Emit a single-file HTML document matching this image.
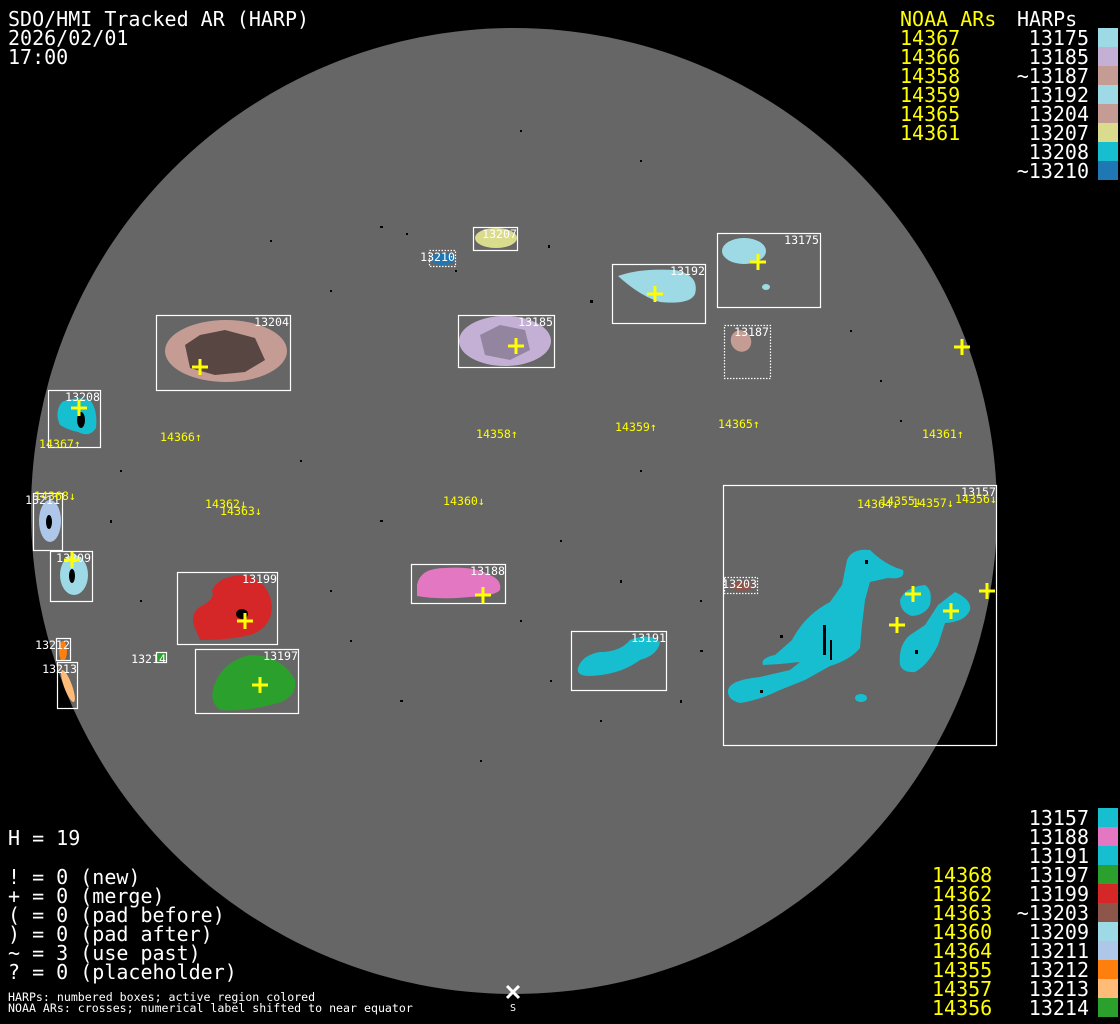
<!DOCTYPE html>
<html><head><meta charset="utf-8"><style>
html,body{margin:0;padding:0;background:#000;}
svg{display:block}
text{font-family:"DejaVu Sans Mono","Liberation Mono",monospace;}
.big{font-size:20px;fill:#fff}
.by{font-size:20px;fill:#ff0}
.lb{font-size:11.6px;fill:#fff}
.ny{font-size:11.6px;fill:#ff0}
.bx{fill:none;stroke:#fff;stroke-width:1.2}
.dt{fill:none;stroke:#fff;stroke-width:1.2;stroke-dasharray:1.5 1.5}
.cr{stroke:#ff0;stroke-width:3}
.sp{fill:#000}
</style></head><body>
<svg width="1120" height="1024" viewBox="0 0 1120 1024" xmlns="http://www.w3.org/2000/svg">
<rect width="1120" height="1024" fill="#000"/>
<circle cx="514" cy="511" r="483" fill="#666"/>
<g class="sp">
<rect x="380" y="226" width="3" height="2"/><rect x="406" y="233" width="2" height="2"/><rect x="548" y="245" width="2" height="3"/><rect x="590" y="300" width="3" height="3"/><rect x="455" y="270" width="2" height="2"/><rect x="330" y="290" width="2" height="2"/><rect x="850" y="330" width="2" height="2"/><rect x="880" y="380" width="2" height="2"/><rect x="300" y="460" width="2" height="2"/><rect x="380" y="520" width="3" height="2"/><rect x="560" y="540" width="2" height="2"/><rect x="620" y="580" width="2" height="3"/><rect x="700" y="600" width="2" height="2"/><rect x="520" y="620" width="2" height="2"/><rect x="350" y="640" width="2" height="2"/><rect x="400" y="700" width="3" height="2"/><rect x="600" y="720" width="2" height="2"/><rect x="680" y="700" width="2" height="3"/><rect x="480" y="760" width="2" height="2"/><rect x="120" y="470" width="2" height="2"/><rect x="140" y="600" width="2" height="2"/><rect x="110" y="520" width="2" height="3"/><rect x="330" y="590" width="2" height="2"/><rect x="640" y="470" width="2" height="2"/><rect x="900" y="420" width="2" height="2"/><rect x="270" y="240" width="2" height="2"/><rect x="640" y="160" width="2" height="2"/><rect x="520" y="130" width="2" height="2"/><rect x="700" y="650" width="3" height="2"/><rect x="550" y="680" width="2" height="2"/>
</g>

<ellipse cx="496" cy="238" rx="21" ry="10" fill="#dbdb8d"/>
<rect class="bx" x="473.5" y="227.5" width="44" height="23"/>
<text class="lb" x="517" y="238" text-anchor="end">13207</text>
<ellipse cx="443" cy="259" rx="12" ry="6" fill="#1f77b4"/>
<rect class="dt" x="429.5" y="250.5" width="26" height="16"/>
<text class="lb" x="455" y="261" text-anchor="end">13210</text>
<ellipse cx="744" cy="251" rx="22" ry="13" fill="#9edae5"/>
<ellipse cx="766" cy="287" rx="4" ry="3" fill="#9edae5"/>
<rect class="bx" x="717.5" y="233.5" width="103" height="74"/>
<text class="lb" x="819" y="244" text-anchor="end">13175</text>
<path d="M618,276 Q640,268 675,270 Q700,275 695,294 Q690,305 660,302 Q640,296 618,276Z" fill="#9edae5"/>
<rect class="bx" x="612.5" y="264.5" width="93" height="59"/>
<text class="lb" x="705" y="275" text-anchor="end">13192</text>
<ellipse cx="741" cy="341" rx="10" ry="11" fill="#c49c94" transform="rotate(-30 741 341)"/>
<rect class="dt" x="724.5" y="325.5" width="46" height="53"/>
<text class="lb" x="769" y="336" text-anchor="end">13187</text>
<ellipse cx="226" cy="351" rx="61" ry="31" fill="#c49c94"/>
<path d="M185,345 L200,335 L225,330 L255,338 L265,360 L245,372 L215,375 L190,368Z" fill="#000" opacity="0.55"/>
<rect class="bx" x="156.5" y="315.5" width="134" height="75"/>
<text class="lb" x="289" y="326" text-anchor="end">13204</text>
<ellipse cx="505" cy="341" rx="46" ry="25" fill="#c5b0d5"/>
<path d="M480,335 L500,325 L525,330 L530,350 L510,360 L485,355Z" fill="#000" opacity="0.25"/>
<rect class="bx" x="458.5" y="315.5" width="96" height="52"/>
<text class="lb" x="553" y="326" text-anchor="end">13185</text>
<path d="M62,402 Q75,396 90,400 Q98,410 96,428 Q90,438 78,432 Q68,430 60,425 Q54,412 62,402Z" fill="#17becf"/>
<ellipse cx="81" cy="420" rx="4" ry="8" fill="#000"/>
<rect class="bx" x="48.5" y="390.5" width="52" height="57"/>
<text class="lb" x="100" y="401" text-anchor="end">13208</text>
<ellipse cx="50" cy="521" rx="11" ry="21" fill="#aec7e8"/>
<ellipse cx="49" cy="522" rx="3" ry="7" fill="#000"/>
<rect class="bx" x="33.5" y="493.5" width="29" height="57"/>
<text class="lb" x="60" y="504" text-anchor="end">13211</text>
<ellipse cx="74" cy="575" rx="14" ry="20" fill="#9edae5"/>
<ellipse cx="72" cy="576" rx="3" ry="7" fill="#000"/>
<rect class="bx" x="50.5" y="551.5" width="42" height="50"/>
<text class="lb" x="91" y="562" text-anchor="end">13209</text>
<ellipse cx="63" cy="651" rx="4" ry="10" fill="#ff7f0e"/>
<ellipse cx="68" cy="686" rx="4" ry="17" fill="#ffbb78" transform="rotate(-20 68 686)"/>
<rect class="bx" x="56.5" y="638.5" width="14" height="22"/>
<text class="lb" x="70" y="649" text-anchor="end">13212</text>
<rect class="bx" x="57.5" y="662.5" width="20" height="46"/>
<text class="lb" x="77" y="673" text-anchor="end">13213</text>
<rect x="157" y="653" width="8" height="8" fill="#2ca02c"/>
<rect class="bx" x="156.5" y="652.5" width="10" height="10"/>
<text class="lb" x="166" y="663" text-anchor="end">13214</text>
<path d="M195,628 Q188,612 205,604 Q215,598 212,590 Q220,575 245,575 Q268,580 272,605 Q272,628 250,635 Q230,640 200,640Z" fill="#d62728"/>
<ellipse cx="242" cy="614" rx="6" ry="5" fill="#000"/>
<rect class="bx" x="177.5" y="572.5" width="100" height="72"/>
<text class="lb" x="277" y="583" text-anchor="end">13199</text>
<path d="M213,690 Q220,662 250,655 Q282,655 295,680 Q298,700 270,705 Q245,712 220,710 Q210,702 213,690Z" fill="#2ca02c"/>
<rect class="bx" x="195.5" y="649.5" width="103" height="64"/>
<text class="lb" x="298" y="660" text-anchor="end">13197</text>
<path d="M417,585 Q420,568 445,568 Q475,566 490,575 Q502,580 500,590 Q495,596 470,597 Q440,600 417,596Z" fill="#e377c2"/>
<rect class="bx" x="411.5" y="564.5" width="94" height="39"/>
<text class="lb" x="505" y="575" text-anchor="end">13188</text>
<path d="M578,668 Q582,655 600,652 Q620,652 630,640 Q650,632 660,642 Q658,655 640,660 Q620,675 590,676 Q576,676 578,668Z" fill="#17becf"/>
<rect class="bx" x="571.5" y="631.5" width="95" height="59"/>
<text class="lb" x="666" y="642" text-anchor="end">13191</text>
<path d="M728,690 Q730,680 760,677 L790,670 L800,662 L780,664 L763,665 Q760,658 775,655 L792,640 Q805,615 830,602 L842,585 L847,560 Q852,548 870,550 Q885,565 903,570 Q906,580 888,578 L870,582 L865,600 L862,625 L860,648 Q850,660 830,666 L805,680 L780,690 Q760,700 740,703 Q727,700 728,690Z" fill="#17becf"/>
<path d="M900,600 Q905,587 925,585 Q933,590 930,605 Q925,615 912,616 Q900,612 900,600Z" fill="#17becf"/>
<path d="M900,665 Q898,645 910,635 L925,625 L938,605 L955,592 Q972,600 970,610 Q965,622 945,623 L938,645 Q928,665 915,672 Q903,673 900,665Z" fill="#17becf"/>
<ellipse cx="861" cy="698" rx="6" ry="4" fill="#17becf"/>
<g fill="#000"><rect x="823" y="625" width="3" height="30"/><rect x="830" y="640" width="2" height="20"/><rect x="780" y="635" width="3" height="3"/><rect x="760" y="690" width="3" height="3"/><rect x="915" y="650" width="3" height="4"/><rect x="865" y="560" width="3" height="4"/></g>
<rect class="bx" x="723.5" y="485.5" width="273" height="260"/>
<text class="lb" x="996" y="496" text-anchor="end">13157</text>
<ellipse cx="742" cy="586" rx="11" ry="5" fill="#8c564b"/>
<rect class="dt" x="724.5" y="577.5" width="33" height="16"/>
<text class="lb" x="757" y="588" text-anchor="end">13203</text>

<g class="cr">
<path d="M750,262h16M758,254v16"/>
<path d="M647,294h16M655,286v16"/>
<path d="M192,367h16M200,359v16"/>
<path d="M508,346h16M516,338v16"/>
<path d="M71,408h16M79,400v16"/>
<path d="M64,560h16M72,552v16"/>
<path d="M237,621h16M245,613v16"/>
<path d="M475,595h16M483,587v16"/>
<path d="M252,685h16M260,677v16"/>
<path d="M954,347h16M962,339v16"/>
<path d="M905,594h16M913,586v16"/>
<path d="M943,611h16M951,603v16"/>
<path d="M979,591h16M987,583v16"/>
<path d="M889,625h16M897,617v16"/>
</g>

<g class="ny">
<text x="39" y="448">14367↑</text>
<text x="160" y="441">14366↑</text>
<text x="476" y="438">14358↑</text>
<text x="615" y="431">14359↑</text>
<text x="718" y="428">14365↑</text>
<text x="922" y="438">14361↑</text>
<text x="34" y="500">14368↓</text>
<text x="205" y="508">14362↓</text>
<text x="220" y="515">14363↓</text>
<text x="443" y="505">14360↓</text>
<text x="857" y="508">14364↓</text>
<text x="880" y="505">14355↓</text>
<text x="912" y="507">14357↓</text>
<text x="955" y="503">14356↓</text>
</g>

<path d="M507,986l12,12M519,986l-12,12" stroke="#fff" stroke-width="3"/>
<text x="513" y="1011" class="lb" text-anchor="middle" style="font-size:10px">S</text>

<text class="big" x="8" y="26">SDO/HMI Tracked AR (HARP)</text>
<text class="big" x="8" y="45">2026/02/01</text>
<text class="big" x="8" y="64">17:00</text>

<text class="by" x="900" y="26">NOAA ARs</text>
<text class="big" x="1017" y="26">HARPs</text>
<g class="by"><text x="900" y="45">14367</text><text x="900" y="64">14366</text><text x="900" y="83">14358</text><text x="900" y="102">14359</text><text x="900" y="121">14365</text><text x="900" y="140">14361</text></g>
<g class="big" text-anchor="end"><text x="1089" y="45">13175</text><text x="1089" y="64">13185</text><text x="1089" y="83">~13187</text><text x="1089" y="102">13192</text><text x="1089" y="121">13204</text><text x="1089" y="140">13207</text><text x="1089" y="159">13208</text><text x="1089" y="178">~13210</text></g>
<rect x="1098" y="28" width="20" height="19" fill="#9edae5"/>
<rect x="1098" y="47" width="20" height="19" fill="#c5b0d5"/>
<rect x="1098" y="66" width="20" height="19" fill="#c49c94"/>
<rect x="1098" y="85" width="20" height="19" fill="#9edae5"/>
<rect x="1098" y="104" width="20" height="19" fill="#c49c94"/>
<rect x="1098" y="123" width="20" height="19" fill="#dbdb8d"/>
<rect x="1098" y="142" width="20" height="19" fill="#17becf"/>
<rect x="1098" y="161" width="20" height="19" fill="#1f77b4"/>

<text class="big" x="8" y="845">H = 19</text>
<text class="big" x="8" y="884">! = 0 (new)</text>
<text class="big" x="8" y="903">+ = 0 (merge)</text>
<text class="big" x="8" y="922">( = 0 (pad before)</text>
<text class="big" x="8" y="941">) = 0 (pad after)</text>
<text class="big" x="8" y="960">~ = 3 (use past)</text>
<text class="big" x="8" y="979">? = 0 (placeholder)</text>
<text class="lb" x="8" y="1001">HARPs: numbered boxes; active region colored</text>
<text class="lb" x="8" y="1012">NOAA ARs: crosses; numerical label shifted to near equator</text>

<g class="big" text-anchor="end"><text x="1089" y="825">13157</text><text x="1089" y="844">13188</text><text x="1089" y="863">13191</text><text x="1089" y="882">13197</text><text x="1089" y="901">13199</text><text x="1089" y="920">~13203</text><text x="1089" y="939">13209</text><text x="1089" y="958">13211</text><text x="1089" y="977">13212</text><text x="1089" y="996">13213</text><text x="1089" y="1015">13214</text></g>
<g class="by"><text x="932" y="882">14368</text><text x="932" y="901">14362</text><text x="932" y="920">14363</text><text x="932" y="939">14360</text><text x="932" y="958">14364</text><text x="932" y="977">14355</text><text x="932" y="996">14357</text><text x="932" y="1015">14356</text></g>
<rect x="1098" y="808" width="20" height="19" fill="#17becf"/>
<rect x="1098" y="827" width="20" height="19" fill="#e377c2"/>
<rect x="1098" y="846" width="20" height="19" fill="#17becf"/>
<rect x="1098" y="865" width="20" height="19" fill="#2ca02c"/>
<rect x="1098" y="884" width="20" height="19" fill="#d62728"/>
<rect x="1098" y="903" width="20" height="19" fill="#8c564b"/>
<rect x="1098" y="922" width="20" height="19" fill="#9edae5"/>
<rect x="1098" y="941" width="20" height="19" fill="#aec7e8"/>
<rect x="1098" y="960" width="20" height="19" fill="#ff7f0e"/>
<rect x="1098" y="979" width="20" height="19" fill="#ffbb78"/>
<rect x="1098" y="998" width="20" height="19" fill="#2ca02c"/>
</svg>
</body></html>
